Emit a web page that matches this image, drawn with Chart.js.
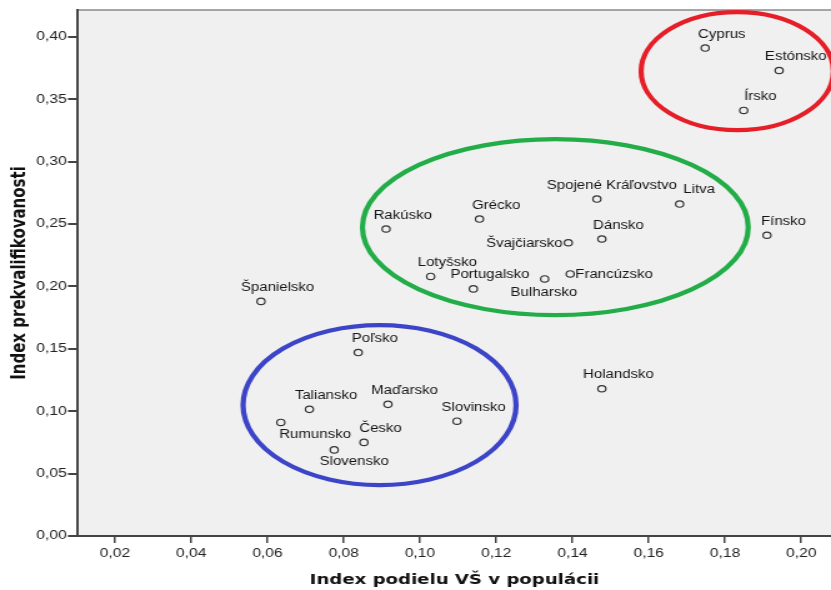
<!DOCTYPE html>
<html lang="sk">
<head>
    <meta charset="UTF-8">
    <title>Index prekvalifikovanosti</title>
    <script src="https://cdn.jsdelivr.net/npm/chart.js"></script>
    <style>
        body { margin: 0; background: #fff; }
        /* povodny obrazok je vodorovne roztiahnuty, preto canvas 665 px zobrazujeme na 831 px */
        #graf { display: block; width: 831px; height: 590px; }
    </style>
</head>
<body>
    <canvas id="graf" width="665" height="590" style="width:831px;height:590px"></canvas>
<script>

    // data
    const krajiny = ['Cyprus', 'Estónsko', 'Írsko', 'Spojené Kráľovstvo', 'Litva', 'Grécko', 'Dánsko',
        'Švajčiarsko', 'Fínsko', 'Rakúsko', 'Lotyšsko', 'Portugalsko', 'Bulharsko', 'Francúzsko',
        'Španielsko', 'Poľsko', 'Taliansko', 'Maďarsko', 'Rumunsko', 'Česko', 'Slovensko', 'Slovinsko', 'Holandsko'];
    const podielVS = [0.1748, 0.1942, 0.1849, 0.1464, 0.1681, 0.1156, 0.1477,
        0.1389, 0.1910, 0.0911, 0.1028, 0.1140, 0.1327, 0.1394,
        0.0583, 0.0838, 0.0710, 0.0916, 0.0635, 0.0853, 0.0775, 0.1097, 0.1477];
    const prekvalifikovanost = [0.391, 0.373, 0.341, 0.270, 0.266, 0.254, 0.238,
        0.235, 0.241, 0.246, 0.208, 0.198, 0.206, 0.210,
        0.188, 0.147, 0.1015, 0.1055, 0.091, 0.075, 0.069, 0.092, 0.118];

    const xTicks = [0.02, 0.04, 0.06, 0.08, 0.10, 0.12, 0.14, 0.16, 0.18, 0.20];
    const yTicks = [0.00, 0.05, 0.10, 0.15, 0.20, 0.25, 0.30, 0.35, 0.40];

    // elipsy okolo skupin (v jednotkach osi)
    const stredX = [0.1832, 0.1355, 0.0894];
    const stredY = [0.3725, 0.2475, 0.1049];
    const polomerX = [0.0252, 0.0506, 0.0358];
    const polomerY = [0.0473, 0.0705, 0.0641];
    const farbyElips = ['#e61e28', '#22ad48', '#3c45c8'];

    // popisky bodov: predvolene nad bodom, niektore inak (px)
    const posun = {
        'Švajčiarsko': ['right', -4.5, 0.5],
        'Francúzsko': ['left', 4, 1],
        'Bulharsko': ['center', -0.6, 14],
        'Rumunsko': ['center', 27.4, 12],
        'Slovensko': ['center', 16, 11.7],
        'Litva': ['center', 15.6, -14],
        'Spojené Kráľovstvo': ['center', 12, -13.6]
    };

    function ciarka(v) {
        return v.toFixed(2).replace('.', ',');
    }

    const pozadie = {
        id: 'pozadie',
        beforeDraw(chart) {
            const { ctx, chartArea: a } = chart;
            ctx.save();
            ctx.fillStyle = '#f0f0f0';
            ctx.fillRect(a.left, a.top, a.right - a.left, a.bottom - a.top);
            ctx.strokeStyle = '#8a8a8a';
            ctx.lineWidth = 1.5;
            ctx.beginPath();
            ctx.moveTo(a.left, a.top);
            ctx.lineTo(a.right, a.top);
            ctx.stroke();
            ctx.restore();
        }
    };

    const elipsy = {
        id: 'elipsy',
        afterDatasetsDraw(chart) {
            const { ctx, scales: { x, y } } = chart;
            ctx.save();
            for (let i = 0; i < stredX.length; i++) {
                const cx = x.getPixelForValue(stredX[i]);
                const cy = y.getPixelForValue(stredY[i]);
                const rx = Math.abs(x.getPixelForValue(stredX[i] + polomerX[i]) - cx);
                const ry = Math.abs(y.getPixelForValue(stredY[i] + polomerY[i]) - cy);
                ctx.strokeStyle = farbyElips[i];
                ctx.lineWidth = 4.2;
                ctx.beginPath();
                ctx.ellipse(cx, cy, rx, ry, 0, 0, Math.PI * 2);
                ctx.stroke();
            }
            ctx.restore();
        }
    };

    const popisky = {
        id: 'popisky',
        afterDatasetsDraw(chart) {
            const ctx = chart.ctx;
            const body = chart.getDatasetMeta(0).data;
            ctx.save();
            ctx.font = '12px "Liberation Sans", Arial, sans-serif';
            ctx.fillStyle = '#151515';
            ctx.textBaseline = 'middle';
            for (let i = 0; i < body.length; i++) {
                const p = posun[krajiny[i]] || ['center', 13.3, -13.8];
                ctx.textAlign = p[0];
                ctx.fillText(krajiny[i], body[i].x + p[1], body[i].y + p[2]);
            }
            ctx.restore();
        }
    };

    let dados = {
        datasets: [{
            data: podielVS.map((v, i) => ({ x: v, y: prekvalifikovanost[i] })),
            pointStyle: 'circle',
            pointRadius: 3.2,
            pointBorderWidth: 1.2,
            pointBorderColor: '#333',
            pointBackgroundColor: 'transparent',
            pointHoverRadius: 3.2
        }]
    };

    const fontTick = { family: '"Liberation Sans", Arial, sans-serif', size: 12.5 };
    const fontTitul = { family: '"DejaVu Sans", Verdana, sans-serif', weight: 'bold' };

    const config = {
        type: 'scatter',
        data: dados,
        options: {
            responsive: false,
            animation: false,
            events: [],
            layout: { autoPadding: false, padding: { top: 10, left: 0, right: 0, bottom: 0 } },
            scales: {
                x: {
                    type: 'linear',
                    min: 0.0103,
                    max: 0.2078,
                    afterBuildTicks: (s) => { s.ticks = xTicks.map(v => ({ value: v })); },
                    afterFit: (s) => { s.height = 54; },
                    grid: { drawOnChartArea: false, drawTicks: true, tickLength: 7, color: '#444', lineWidth: 1.5 },
                    border: { display: true, color: '#444', width: 2 },
                    ticks: { callback: ciarka, font: fontTick, color: '#222', padding: 3, maxRotation: 0 },
                    title: {
                        display: true,
                        text: 'Index podielu VŠ v populácii',
                        font: Object.assign({ size: 14.5 }, fontTitul),
                        color: '#111',
                        padding: { top: 0, bottom: 1.3 }
                    }
                },
                y: {
                    type: 'linear',
                    min: 0,
                    max: 0.4215,
                    afterBuildTicks: (s) => { s.ticks = yTicks.map(v => ({ value: v })); },
                    afterFit: (s) => { s.width = 62.4; },
                    grid: { drawOnChartArea: false, drawTicks: true, tickLength: 8, color: '#444', lineWidth: 2 },
                    border: { display: true, color: '#444', width: 2 },
                    ticks: { callback: ciarka, font: fontTick, color: '#222', padding: 1 },
                    title: {
                        display: true,
                        text: 'Index prekvalifikovanosti',
                        font: Object.assign({ size: 15 }, fontTitul),
                        color: '#111',
                        padding: { top: 7, bottom: 0 }
                    }
                }
            },
            plugins: {
                legend: { display: false },
                tooltip: { enabled: false }
            }
        },
        plugins: [pozadie, elipsy, popisky]
    };

    let myChart = new Chart(
        document.getElementById('graf'),
        config
    );

</script>
</body>
</html>
